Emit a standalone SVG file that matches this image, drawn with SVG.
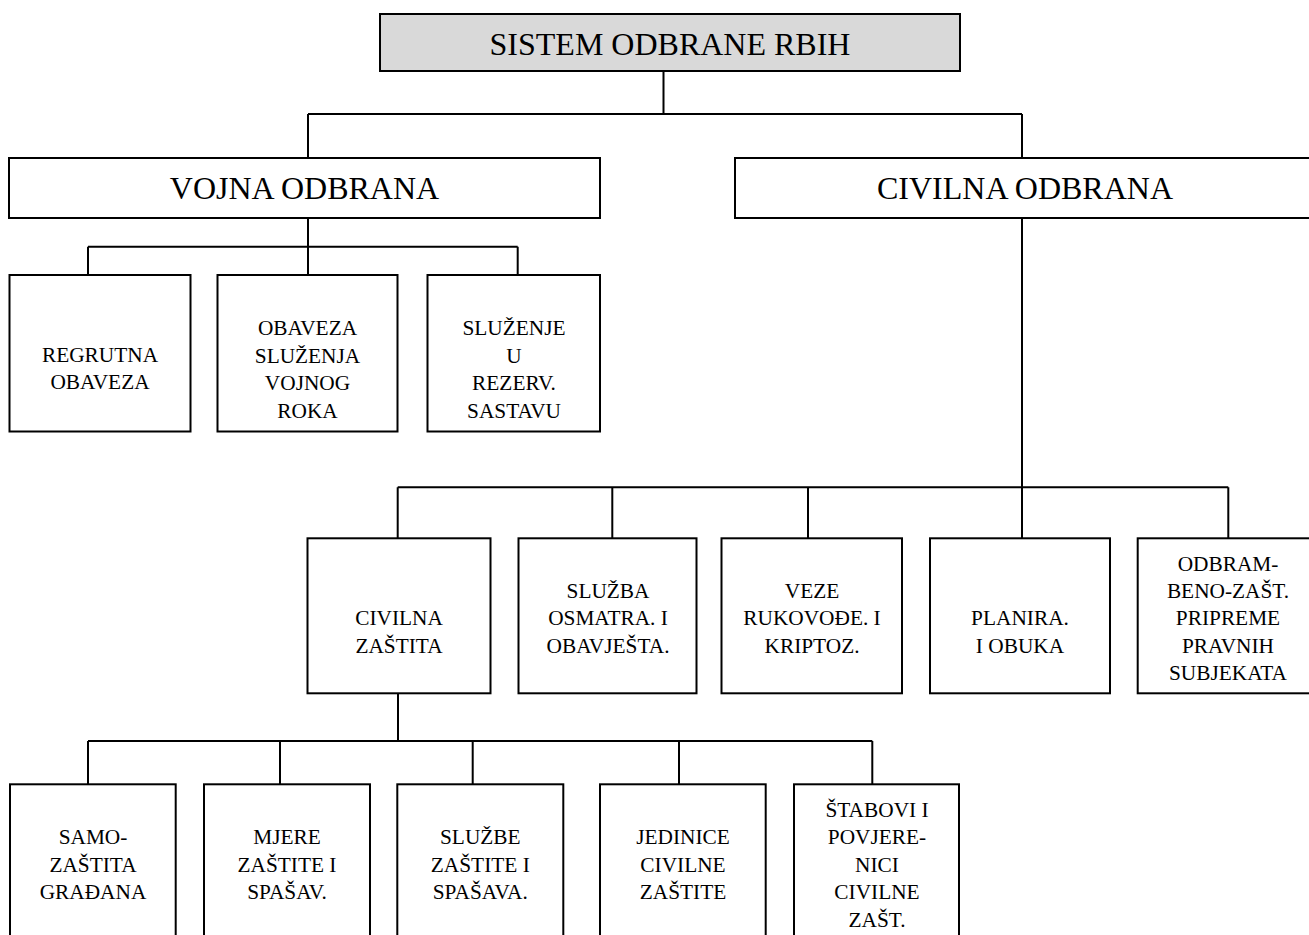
<svg xmlns="http://www.w3.org/2000/svg" width="1309" height="935" viewBox="0 0 1309 935">
<style>
.box{fill:#fff;stroke:#000;stroke-width:2}
.root{fill:#d9d9d9}
.t{font-size:21.33px;text-anchor:middle;fill:#000}
.big{font-size:32px}
.c{fill:none;stroke:#000;stroke-width:2}
</style>
<rect width="1309" height="935" fill="#fff"/>
<g id="connectors" class="c">
<path d="M663.5 71V114M308 114H1022M308 114V158M1022 114V158"/>
<path d="M308 218V275M88 246.7H517.7M88 246.7V275M517.7 246.7V275"/>
<path d="M1022 218V538.3M397.7 487.3H1228.3M397.7 487.3V538.3M612.3 487.3V538.3M808 487.3V538.3M1228.3 487.3V538.3"/>
<path d="M398 693.3V741M88 741H872.3M88 741V784.3M280 741V784.3M472.7 741V784.3M679 741V784.3M872.3 741V784.3"/>
</g>
<g font-family="Liberation Serif, Times New Roman, serif">
<g id="root"><rect class="box root" x="380" y="14" width="580" height="57"/><text class="t big" x="670" y="55">SISTEM ODBRANE RBIH</text></g>
<g id="vojna"><rect class="box" x="9" y="158" width="591" height="60"/><text class="t big" x="304.5" y="199">VOJNA ODBRANA</text></g>
<g id="civilna"><rect class="box" x="735" y="158" width="600" height="60"/><text class="t big" x="1025" y="199">CIVILNA ODBRANA</text></g>
<g id="regrutna"><rect class="box" x="9.5" y="275" width="181" height="156.5"/><text class="t"><tspan x="100" y="361.7">REGRUTNA</tspan><tspan x="100" y="389">OBAVEZA</tspan></text></g>
<g id="obaveza"><rect class="box" x="217.5" y="275" width="180" height="156.5"/><text class="t"><tspan x="307.5" y="335">OBAVEZA</tspan><tspan x="307.5" y="362.5">SLUŽENJA</tspan><tspan x="307.5" y="390">VOJNOG</tspan><tspan x="307.5" y="417.5">ROKA</tspan></text></g>
<g id="sluzenje"><rect class="box" x="427.5" y="275" width="172.5" height="156.5"/><text class="t"><tspan x="514" y="335">SLUŽENJE</tspan><tspan x="514" y="362.5">U</tspan><tspan x="514" y="390">REZERV.</tspan><tspan x="514" y="417.5">SASTAVU</tspan></text></g>
<g id="civilna-zastita"><rect class="box" x="307.5" y="538.3" width="183" height="155"/><text class="t"><tspan x="399" y="625.3">CIVILNA</tspan><tspan x="399" y="652.6">ZAŠTITA</tspan></text></g>
<g id="sluzba"><rect class="box" x="518.5" y="538.3" width="178" height="155"/><text class="t"><tspan x="608" y="598">SLUŽBA</tspan><tspan x="608" y="625.3">OSMATRA. I</tspan><tspan x="608" y="652.6">OBAVJEŠTA.</tspan></text></g>
<g id="veze"><rect class="box" x="721.5" y="538.3" width="180.5" height="155"/><text class="t"><tspan x="812" y="598">VEZE</tspan><tspan x="812" y="625.3">RUKOVOĐE. I</tspan><tspan x="812" y="652.6">KRIPTOZ.</tspan></text></g>
<g id="planira"><rect class="box" x="930" y="538.3" width="180" height="155"/><text class="t"><tspan x="1020" y="625.3">PLANIRA.</tspan><tspan x="1020" y="652.6">I OBUKA</tspan></text></g>
<g id="odbram"><rect class="box" x="1137.7" y="538.3" width="182" height="155"/><text class="t"><tspan x="1228" y="570.7">ODBRAM-</tspan><tspan x="1228" y="598">BENO-ZAŠT.</tspan><tspan x="1228" y="625.3">PRIPREME</tspan><tspan x="1228" y="652.6">PRAVNIH</tspan><tspan x="1228" y="679.9">SUBJEKATA</tspan></text></g>
<g id="samozastita"><rect class="box" x="10" y="784.3" width="165.7" height="165"/><text class="t"><tspan x="93" y="844">SAMO-</tspan><tspan x="93" y="871.5">ZAŠTITA</tspan><tspan x="93" y="899">GRAĐANA</tspan></text></g>
<g id="mjere"><rect class="box" x="204" y="784.3" width="166" height="165"/><text class="t"><tspan x="287" y="844">MJERE</tspan><tspan x="287" y="871.5">ZAŠTITE I</tspan><tspan x="287" y="899">SPAŠAV.</tspan></text></g>
<g id="sluzbe"><rect class="box" x="397.3" y="784.3" width="166" height="165"/><text class="t"><tspan x="480.3" y="844">SLUŽBE</tspan><tspan x="480.3" y="871.5">ZAŠTITE I</tspan><tspan x="480.3" y="899">SPAŠAVA.</tspan></text></g>
<g id="jedinice"><rect class="box" x="600" y="784.3" width="165.7" height="165"/><text class="t"><tspan x="683" y="844">JEDINICE</tspan><tspan x="683" y="871.5">CIVILNE</tspan><tspan x="683" y="899">ZAŠTITE</tspan></text></g>
<g id="stabovi"><rect class="box" x="794" y="784.3" width="165" height="165"/><text class="t"><tspan x="877" y="816.7">ŠTABOVI I</tspan><tspan x="877" y="844">POVJERE-</tspan><tspan x="877" y="871.5">NICI</tspan><tspan x="877" y="899">CIVILNE</tspan><tspan x="877" y="926.5">ZAŠT.</tspan></text></g>
</g>
</svg>
